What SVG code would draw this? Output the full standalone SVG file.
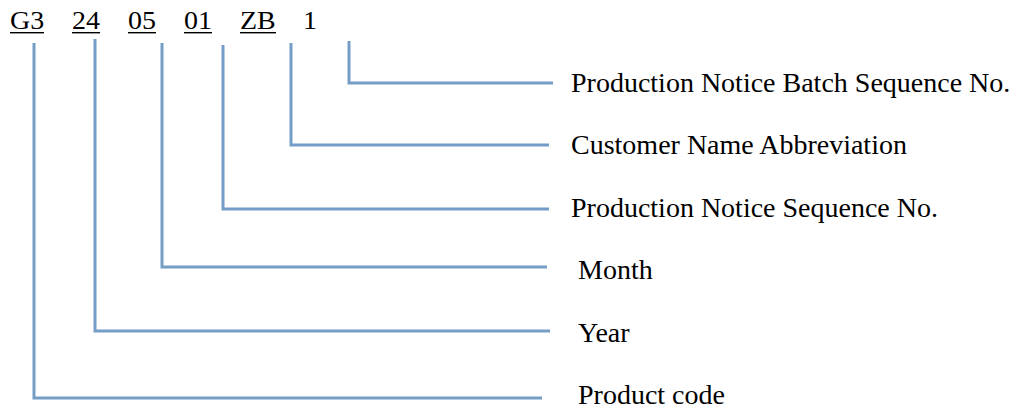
<svg xmlns="http://www.w3.org/2000/svg" width="1013" height="409" viewBox="0 0 1013 409">
<style>
.t{font-family:"Liberation Serif","Times New Roman",serif;font-size:28px;fill:#000}
.s{font-family:"Liberation Serif","Times New Roman",serif;font-size:25px;fill:#000}
.ul{fill:#000}
.c{fill:none;stroke:#749EC8;stroke-width:3}
</style>
<rect width="1013" height="409" fill="#fff"/>
<g id="code">
<g transform="scale(1.12 1)">
<text class="s" x="8.93" y="29.5">G3</text>
<text class="s" x="64.29" y="29.5">24</text>
<text class="s" x="114.29" y="29.5">05</text>
<text class="s" x="164.29" y="29.5">01</text>
<text class="s" x="214.29" y="29.5">ZB</text>
<text class="s" x="270.54" y="29.5">1</text>
</g>
<rect class="ul" x="10" y="32" width="34" height="1.4"/>
<rect class="ul" x="72" y="32" width="28" height="1.4"/>
<rect class="ul" x="128" y="32" width="28" height="1.4"/>
<rect class="ul" x="184" y="32" width="28" height="1.4"/>
<rect class="ul" x="240" y="32" width="36" height="1.4"/>
</g>
<g id="connectors">
<polyline class="c" points="349,41 349,83 553,83"/>
<polyline class="c" points="291,43 291,145 549,145"/>
<polyline class="c" points="223,45 223,209 549,209"/>
<polyline class="c" points="162,43 162,267 547,267"/>
<polyline class="c" points="95,39 95,331 550,331"/>
<polyline class="c" points="34,43 34,398 542,398"/>
</g>
<g id="n-batch"><text class="t" x="571" y="92">Production Notice Batch Sequence No.</text></g>
<g id="n-customer"><text class="t" x="571" y="154">Customer Name Abbreviation</text></g>
<g id="n-notice"><text class="t" x="571" y="217">Production Notice Sequence No.</text></g>
<g id="n-month"><text class="t" x="578" y="279">Month</text></g>
<g id="n-year"><text class="t" x="578" y="342">Year</text></g>
<g id="n-product"><text class="t" x="578" y="404">Product code</text></g>
</svg>
